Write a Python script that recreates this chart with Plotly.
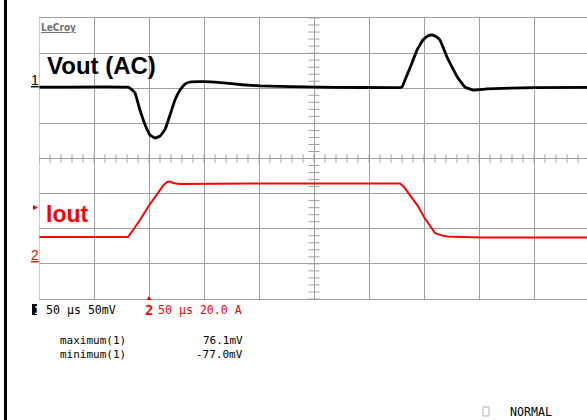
import plotly.graph_objects as go
import numpy as np

# ---------------- data ----------------
# Channel 1: Vout (AC), mV vs time in µs (50 µs/div, 50 mV/div)
t_vout = [0, 80.9, 84.0, 87.3, 91.8, 96.4, 100.9, 105.5, 110.0, 114.5,
          119.1, 123.6, 128.2, 132.7, 137.3, 150.0, 165.0, 185.0, 200.9, 255.5,
          328.2, 330.0, 332.7, 339.1, 343.6, 349.1, 353.5, 357.3, 361.0, 364.5,
          370.9, 375.5, 380.9, 387.3, 394.5, 407.3, 450.0, 500]
v_out = [1.5, 1.5, -1.5, -6.8, -31, -52, -66.5, -70.8, -68, -59,
         -38, -16.7, -2.5, 6.0, 8.9, 9.5, 8.0, 5.0, 3.5, 1.5,
         1.0, 1.7, 11.7, 36, 54.4, 68.7, 74.5, 75.8, 73.5, 68.7,
         44.5, 30.2, 14.6, 1.7, -2.5, -1.0, 1.0, 1.2]

# Channel 2: Iout, A vs time in µs (20 A/div)
t_iout = [0, 80.9, 85.5, 91.8, 99.1, 106.4, 112.7, 116.4, 119.1, 121.8,
          128.2, 191.8, 328.2, 331.8, 337.3, 344.5, 350.0, 356.4, 360.0, 364.5,
          370.9, 400.9, 500]
i_out = [15.3, 15.3, 19.3, 25, 32.4, 39.2, 44.4, 46.6, 46.9, 46.1,
         45.5, 45.8, 45.8, 43.8, 39.2, 32.9, 26.7, 21, 17.6, 16.5,
         15.6, 15.0, 15.0]

ch1_label = "Vout (AC)"
ch2_label = "Iout"
ch1_setting = "50 µs 50mV"
ch2_setting = "50 µs 20.0 A"
meas_names = ["maximum(1)", "minimum(1)"]
meas_values = ["76.1mV", "-77.0mV"]

# ---------------- layout helpers ----------------
W, H = 587, 420
L, T, B = 39, 18, 299          # plot area pixel edges
PW = W - L
PH = B - T

def px(x):
    return (x - L) / PW

def py(y):
    return (B - y) / PH

GRID = "#a0a0a0"
MONO = "DejaVu Sans Mono"

fig = go.Figure()

# centre-line minor ticks (graticule decoration)
ty = np.arange(-300, 101, 10)
fig.add_trace(go.Scatter(x=[250] * len(ty), y=ty, mode="markers",
                         marker=dict(symbol="line-ew", size=8,
                                     line=dict(color=GRID, width=1)),
                         hoverinfo="skip", showlegend=False))
tx = np.arange(0, 500, 10)
fig.add_trace(go.Scatter(x=tx, y=[-100] * len(tx), mode="markers",
                         marker=dict(symbol="line-ns", size=6,
                                     line=dict(color=GRID, width=1)),
                         hoverinfo="skip", showlegend=False))

fig.add_trace(go.Scatter(x=t_vout, y=v_out, mode="lines",
                         line=dict(color="black", width=2.8, shape="spline", smoothing=0.3),
                         yaxis="y", showlegend=False, hoverinfo="skip"))
fig.add_trace(go.Scatter(x=t_iout, y=i_out, mode="lines",
                         line=dict(color="#ff0000", width=2),
                         yaxis="y2", showlegend=False, hoverinfo="skip"))

def tri(points):
    return "M " + " L ".join(f"{px(x)},{py(y)}" for x, y in points) + " Z"

shapes = [
    # left black frame bar
    dict(type="rect", xref="paper", yref="paper",
         x0=px(4), x1=px(7), y0=py(420), y1=py(0),
         fillcolor="black", line=dict(width=0), layer="above"),
    # orange left edge of graticule
    dict(type="line", xref="x", yref="y", x0=0, x1=0, y0=-300, y1=100,
         line=dict(color="#f0a030", width=1.2), layer="above"),
    # channel 1 box at bottom
    dict(type="rect", xref="paper", yref="paper",
         x0=px(32), x1=px(37), y0=py(315), y1=py(304),
         fillcolor="black", line=dict(width=0), layer="above"),
    # NORMAL box
    dict(type="rect", xref="paper", yref="paper",
         x0=px(483), x1=px(489), y0=py(416), y1=py(407),
         fillcolor="white", line=dict(color="#b0b0b0", width=1), layer="above"),
    # red channel-2 level arrow (left)
    dict(type="path", xref="paper", yref="paper",
         path=tri([(33, 205), (33, 210), (38, 207.5)]),
         fillcolor="#ff0000", line=dict(width=0), layer="above"),
    # red trigger position marker (bottom)
    dict(type="path", xref="paper", yref="paper",
         path=tri([(146.5, 300), (151.5, 300), (149, 296)]),
         fillcolor="#ff0000", line=dict(width=0), layer="above"),
]

ann = []
def A(x, y, text, size, color="black", family=MONO, xanchor="left", **kw):
    ann.append(dict(x=px(x), y=py(y), xref="paper", yref="paper", text=text,
                    showarrow=False, xanchor=xanchor, yanchor="middle",
                    font=dict(size=size, color=color, family=family),
                    borderpad=0, **kw))

A(40, 27, "<u><b>LeCroy</b></u>", 10, color="#707070", family="DejaVu Sans Condensed")
A(46, 65, "<b>" + ch1_label + "</b>", 24, family="Liberation Sans")
A(45, 214, "<b>" + ch2_label + "</b>", 23, color="#ff0000", family="Liberation Sans")
A(39.5, 80, "<u>1</u>", 14, family="Liberation Sans", xanchor="right")
A(39.5, 255, "<u>2</u>", 14, color="#ff0000", family="Liberation Sans", xanchor="right")
A(32.5, 310, "<b>1</b>", 11, color="white", family=MONO)
A(45, 310, ch1_setting, 11.6)
A(144, 310, "<b>2</b>", 14, color="#ff0000", family=MONO)
A(157, 310, ch2_setting, 11.6, color="#ff0000")
A(59, 340.5, meas_names[0], 11)
A(59, 354.5, meas_names[1], 11)
A(244, 340.5, meas_values[0], 11, xanchor="right")
A(244, 354.5, meas_values[1], 11, xanchor="right")
A(509, 412, "NORMAL", 11.6)

fig.update_layout(
    width=W, height=H,
    margin=dict(l=L, r=0, t=T, b=H - B, pad=0),
    paper_bgcolor="white", plot_bgcolor="white",
    showlegend=False,
    shapes=shapes, annotations=ann,
    xaxis=dict(range=[0, (W - L) / 55 * 50], dtick=50, tick0=0,
               showgrid=True, gridcolor=GRID, gridwidth=1,
               showticklabels=False, ticks="", zeroline=False,
               showline=True, mirror=True, linecolor=GRID, linewidth=1),
    yaxis=dict(range=[-300, 100], dtick=50, tick0=0,
               showgrid=True, gridcolor=GRID, gridwidth=1,
               showticklabels=False, ticks="", zeroline=False, showline=False),
    yaxis2=dict(range=[-20, 140], overlaying="y", showgrid=False,
                showticklabels=False, ticks="", zeroline=False, showline=False),
)

fig.write_html("out.html", config={"displayModeBar": False})
